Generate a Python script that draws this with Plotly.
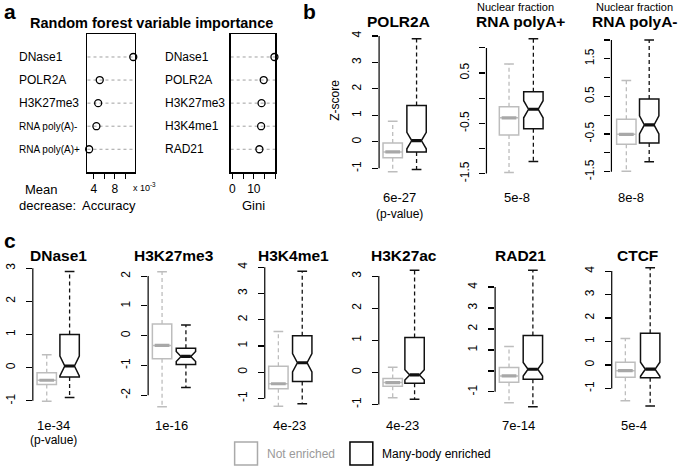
import plotly.graph_objects as go

W, H = 685, 466
FONT = "Liberation Sans, Arial, Helvetica, sans-serif"


def px(x):
    return x / W


def py(y):
    return 1 - y / H


# ---------------- data ----------------
rf_acc_labels = ["DNase1", "POLR2A", "H3K27me3", "RNA poly(A)-", "RNA poly(A)+"]
rf_acc_values = [11.45, 5.13, 4.83, 4.50, 3.13]          # x 10^-3
rf_gini_labels = ["DNase1", "POLR2A", "H3K27me3", "H3K4me1", "RAD21"]
rf_gini_values = [19.6, 14.6, 13.6, 13.4, 12.6]

acc_ticks = [4, 6, 8, 10]
acc_ticktext = ["4", " ", "8", " "]
gini_ticks = [0, 5, 10, 15, 20]
gini_ticktext = ["0", " ", "10", " ", " "]

panel_names = ["POLR2A", "RNA polyA+", "RNA polyA-",
               "DNase1", "H3K27me3", "H3K4me1", "H3K27ac", "RAD21", "CTCF"]
p_values = ["6e-27", "5e-8", "8e-8", "1e-34", "1e-16", "4e-23", "4e-23", "7e-14", "5e-4"]

# [lower whisker, Q1, median, Q3, upper whisker]
not_enriched = [
    [-1.13, -0.60, -0.38, -0.04, 0.78],
    [-1.48, -0.73, -0.39, -0.17, 0.68],
    [-1.49, -0.77, -0.51, -0.11, 0.92],
    [-1.01, -0.51, -0.38, -0.15, 0.39],
    [-2.39, -0.78, -0.33, 0.39, 2.15],
    [-1.30, -0.63, -0.44, 0.23, 1.55],
    [-0.79, -0.43, -0.32, -0.19, 0.16],
    [-1.52, -0.54, -0.24, 0.16, 1.16],
    [-1.52, -0.52, -0.24, 0.12, 1.13],
]
many_body = [
    [-1.04, -0.38, 0.05, 1.37, 3.89],
    [-1.26, -0.61, -0.22, 0.13, 1.18],
    [-1.24, -0.74, -0.26, 0.43, 2.00],
    [-0.90, -0.28, 0.05, 1.00, 2.90],
    [-1.74, -0.97, -0.70, -0.42, 0.36],
    [-1.20, -0.35, 0.36, 1.39, 3.84],
    [-0.84, -0.34, -0.08, 1.09, 3.18],
    [-1.71, -0.40, 0.08, 1.69, 4.80],
    [-1.75, -0.54, -0.18, 1.35, 4.14],
]
many_body_notch = [0.31, 0.17, 0.24, 0.30, 0.17, 0.35, 0.16, 0.32, 0.30]

y_ticks = [
    [-1, 0, 1, 2, 3, 4],
    [-1.5, -1, -0.5, 0, 0.5, 1],
    [-1.5, -1, -0.5, 0, 0.5, 1, 1.5, 2],
    [-1, 0, 1, 2, 3],
    [-2, -1, 0, 1, 2],
    [-1, 0, 1, 2, 3, 4],
    [-1, 0, 1, 2, 3],
    [-1, 0, 1, 2, 3, 4],
    [-1, 0, 1, 2, 3, 4],
]
y_ticklabels = [
    ["-1", "0", "1", "2", "3", "4"],
    ["-1.5", " ", "-0.5", " ", "0.5", " "],
    ["-1.5", " ", "-0.5", " ", "0.5", " ", "1.5", " "],
    ["-1", "0", "1", "2", "3"],
    ["-2", "-1", "0", "1", "2"],
    ["-1", "0", "1", "2", "3", "4"],
    ["-1", "0", "1", "2", "3"],
    ["-1", " ", "1", "2", "3", "4"],
    ["-1", "0", "1", "2", "3", "4"],
]

# ---------------- layout geometry (pixels) ----------------
PANEL_LAYOUT = [
    dict(ax=379.3, g=393, k=417, tt=35.0, tb=167.7, dt=26, db=182, tx=399, ty=21, px_=400, py_=197),
    dict(ax=487.3, g=510, k=534.5, tt=47.0, tb=173.0, dt=26, db=182, tx=522, ty=21, px_=518, py_=197),
    dict(ax=613.0, g=628, k=651, tt=39.0, tb=171.0, dt=26, db=182, tx=637, ty=21, px_=633, py_=197),
    dict(ax=31.0, g=45, k=68, tt=267.7, tb=400.7, dt=262, db=412, tx=57, ty=255, px_=52, py_=425),
    dict(ax=147.0, g=161, k=185, tt=275.7, tb=395.0, dt=262, db=412, tx=173, ty=255, px_=170, py_=425),
    dict(ax=264.3, g=278, k=302, tt=266.7, tb=398.3, dt=262, db=412, tx=293, ty=255, px_=289, py_=425),
    dict(ax=379.0, g=393, k=415, tt=275.7, tb=404.3, dt=262, db=412, tx=404, ty=255, px_=403, py_=425),
    dict(ax=496.0, g=510, k=534, tt=286.7, tb=391.7, dt=262, db=412, tx=522, ty=255, px_=520, py_=425),
    dict(ax=613.3, g=627, k=652, tt=270.7, tb=388.3, dt=262, db=412, tx=639, ty=255, px_=636, py_=425),
]
BOX_PX = 19.5
GRAY = "#bdbdbd"
GRAY_MED = "#a8a8a8"
BLACK = "#111111"

fig = go.Figure()
layout = dict(
    width=W, height=H, autosize=False,
    margin=dict(l=0, r=0, t=0, b=0, pad=0),
    paper_bgcolor="white", plot_bgcolor="rgba(0,0,0,0)",
    showlegend=False,
    font=dict(family=FONT, size=12, color="black"),
)
shapes = []
annotations = []


def ann(text, x, y, size=12, bold=False, color="black", xanchor="center", angle=0):
    annotations.append(dict(
        text=f"<b>{text}</b>" if bold else text,
        x=px(x), y=py(y), xref="paper", yref="paper",
        xanchor=xanchor, yanchor="middle", showarrow=False, textangle=angle,
        font=dict(family=FONT, size=size, color=color),
    ))


# ---------------- panel a: dot charts ----------------
n_rows = len(rf_acc_labels)
rows = [n_rows - i for i in range(n_rows)]
dot_cfg = [
    (rf_acc_labels, rf_acc_values, [2.82, 11.82], acc_ticks, acc_ticktext, 86, 134, 15),
    (rf_gini_labels, rf_gini_values, [-0.8, 20.05], gini_ticks, gini_ticktext, 230, 275, 162),
]
for j, (labels, vals, xr, tv, tt, x0, x1, lab_x) in enumerate(dot_cfg):
    n = j + 1
    xa, ya = ("x", "y") if n == 1 else (f"x{n}", f"y{n}")
    key_x = "xaxis" if n == 1 else f"xaxis{n}"
    key_y = "yaxis" if n == 1 else f"yaxis{n}"
    layout[key_x] = dict(
        domain=[px(x0), px(x1)], range=xr, anchor=ya,
        showline=True, mirror=True, linecolor="black", linewidth=1.2,
        ticks="outside", ticklen=5, tickwidth=1, tickcolor="black",
        tickvals=tv, ticktext=tt, showgrid=False, zeroline=False,
        tickfont=dict(size=12, family=FONT),
    )
    layout[key_y] = dict(
        domain=[py(171.7), py(33)], range=[0, n_rows + 1], anchor=xa,
        showline=True, mirror=True, linecolor="black", linewidth=1.2,
        showticklabels=False, ticks="", showgrid=False, zeroline=False,
    )
    for r in rows:
        shapes.append(dict(type="line", xref=f"{xa} domain", yref=ya,
                           x0=0, x1=1, y0=r, y1=r,
                           line=dict(color="#a0a0a0", width=1, dash="dot"), layer="below"))
    fig.add_trace(go.Scatter(
        x=vals, y=rows, mode="markers", xaxis=xa, yaxis=ya, cliponaxis=False,
        marker=dict(symbol="circle-open", size=7, color="black", line=dict(width=1.3)),
        hoverinfo="skip",
    ))
    for lab, r in zip(labels, rows):
        small = lab.startswith("RNA")
        annotations.append(dict(
            text=lab, x=px(lab_x), xref="paper", y=r, yref=ya,
            xanchor="left", yanchor="middle", showarrow=False,
            font=dict(family=FONT, size=10 if small else 12, color="black"),
        ))

ann("a", 0, 11, size=21, bold=True, xanchor="left")
ann("Random forest variable importance", 150, 22, size=14.5, bold=True)
ann("Mean", 40, 189, size=13)
ann("decrease:", 46, 205, size=13)
ann("Accuracy", 108, 205, size=13)
ann("Gini", 253, 205, size=13)
ann("x 10<sup>-3</sup>", 130, 186, size=9, xanchor="left")

# ---------------- panels b and c: box plots ----------------
for i, name in enumerate(panel_names):
    cfg = PANEL_LAYOUT[i]
    n = i + 3
    xa, ya = f"x{n}", f"y{n}"
    ax, g, k = cfg["ax"], cfg["g"], cfg["k"]
    unit = k - g
    right = k + (g - ax)
    xr = [1 - (g - ax) / unit, 1 + (right - g) / unit]
    bw = BOX_PX / unit
    ticks = y_ticks[i]
    t_hi, t_lo = max(ticks), min(ticks)
    s = (cfg["tb"] - cfg["tt"]) / (t_hi - t_lo)
    yr = [t_hi - (cfg["db"] - cfg["tt"]) / s, t_hi - (cfg["dt"] - cfg["tt"]) / s]

    layout[f"xaxis{n}"] = dict(domain=[px(ax), px(right)], range=xr, anchor=ya,
                               visible=False, fixedrange=True)
    layout[f"yaxis{n}"] = dict(
        domain=[py(cfg["db"]), py(cfg["dt"])], range=yr, anchor=xa,
        showline=False, showgrid=False, zeroline=False,
        ticks="outside", ticklen=6, tickwidth=1.2, tickcolor="black",
        tickvals=ticks, ticktext=y_ticklabels[i], tickangle=-90,
        tickfont=dict(size=12, family=FONT), ticklabelstandoff=6,
    )
    shapes.append(dict(type="line", xref=f"{xa} domain", yref=ya,
                       x0=0, x1=0, y0=t_lo, y1=t_hi,
                       line=dict(color="black", width=1.2)))

    groups = [
        (not_enriched[i], 1, GRAY, GRAY_MED, False, 0.0),
        (many_body[i], 2, BLACK, BLACK, True, many_body_notch[i]),
    ]
    for stats, pos, col, mcol, notched, nspan in groups:
        lo, q1, med, q3, hi = stats
        box_kw = dict(
            x=[pos], q1=[q1], median=[med], q3=[q3], lowerfence=[q1], upperfence=[q3],
            width=bw, boxpoints=False, fillcolor="rgba(255,255,255,0)",
            line=dict(color=col, width=1.5), xaxis=xa, yaxis=ya, hoverinfo="skip",
            whiskerwidth=0,
        )
        if notched:
            box_kw.update(notched=True, notchspan=[nspan], notchwidth=0.25)
        fig.add_trace(go.Box(**box_kw))
        fig.add_trace(go.Scatter(
            x=[pos, pos, None, pos, pos], y=[q3, hi, None, q1, lo], mode="lines",
            line=dict(color=col, width=1.3, dash="4px,3px"), xaxis=xa, yaxis=ya,
            hoverinfo="skip",
        ))
        cw = bw / 4
        fig.add_trace(go.Scatter(
            x=[pos - cw, pos + cw, None, pos - cw, pos + cw], y=[hi, hi, None, lo, lo],
            mode="lines", line=dict(color=col, width=1.5), xaxis=xa, yaxis=ya,
            hoverinfo="skip",
        ))
        mw = bw * (0.25 if notched else 0.38)
        fig.add_trace(go.Scatter(
            x=[pos - mw, pos + mw], y=[med, med], mode="lines",
            line=dict(color=mcol, width=3.2), xaxis=xa, yaxis=ya, hoverinfo="skip",
        ))

    ann(name, cfg["tx"], cfg["ty"], size=15.5, bold=True)
    ann(p_values[i], cfg["px_"], cfg["py_"], size=13)

ann("b", 301, 11, size=21, bold=True, xanchor="left")
ann("c", 0, 240, size=21, bold=True, xanchor="left")
ann("Nuclear fraction", 517, 6, size=11)
ann("Nuclear fraction", 636, 6, size=11)
ann("Z-score", 335, 100, size=12, angle=-90)
ann("(p-value)", 400, 213, size=12)
ann("(p-value)", 52, 440, size=12)

# legend
shapes.append(dict(type="rect", xref="paper", yref="paper",
                   x0=px(234), x1=px(257), y0=py(465), y1=py(442),
                   line=dict(color="#aaaaaa", width=1.5)))
shapes.append(dict(type="rect", xref="paper", yref="paper",
                   x0=px(350), x1=px(373), y0=py(465), y1=py(442),
                   line=dict(color="black", width=1.5)))
ann("Not enriched", 265, 454, size=12, color="#9a9a9a", xanchor="left")
ann("Many-body enriched", 380, 454, size=12, xanchor="left")

layout["shapes"] = shapes
layout["annotations"] = annotations
layout["hovermode"] = False
fig.update_layout(**layout)
fig.write_html(
    "out.html",
    config={"displayModeBar": False, "staticPlot": True},
    post_script="document.body.style.margin='0';document.body.style.padding='0';"
                "document.body.style.overflow='hidden';",
)
